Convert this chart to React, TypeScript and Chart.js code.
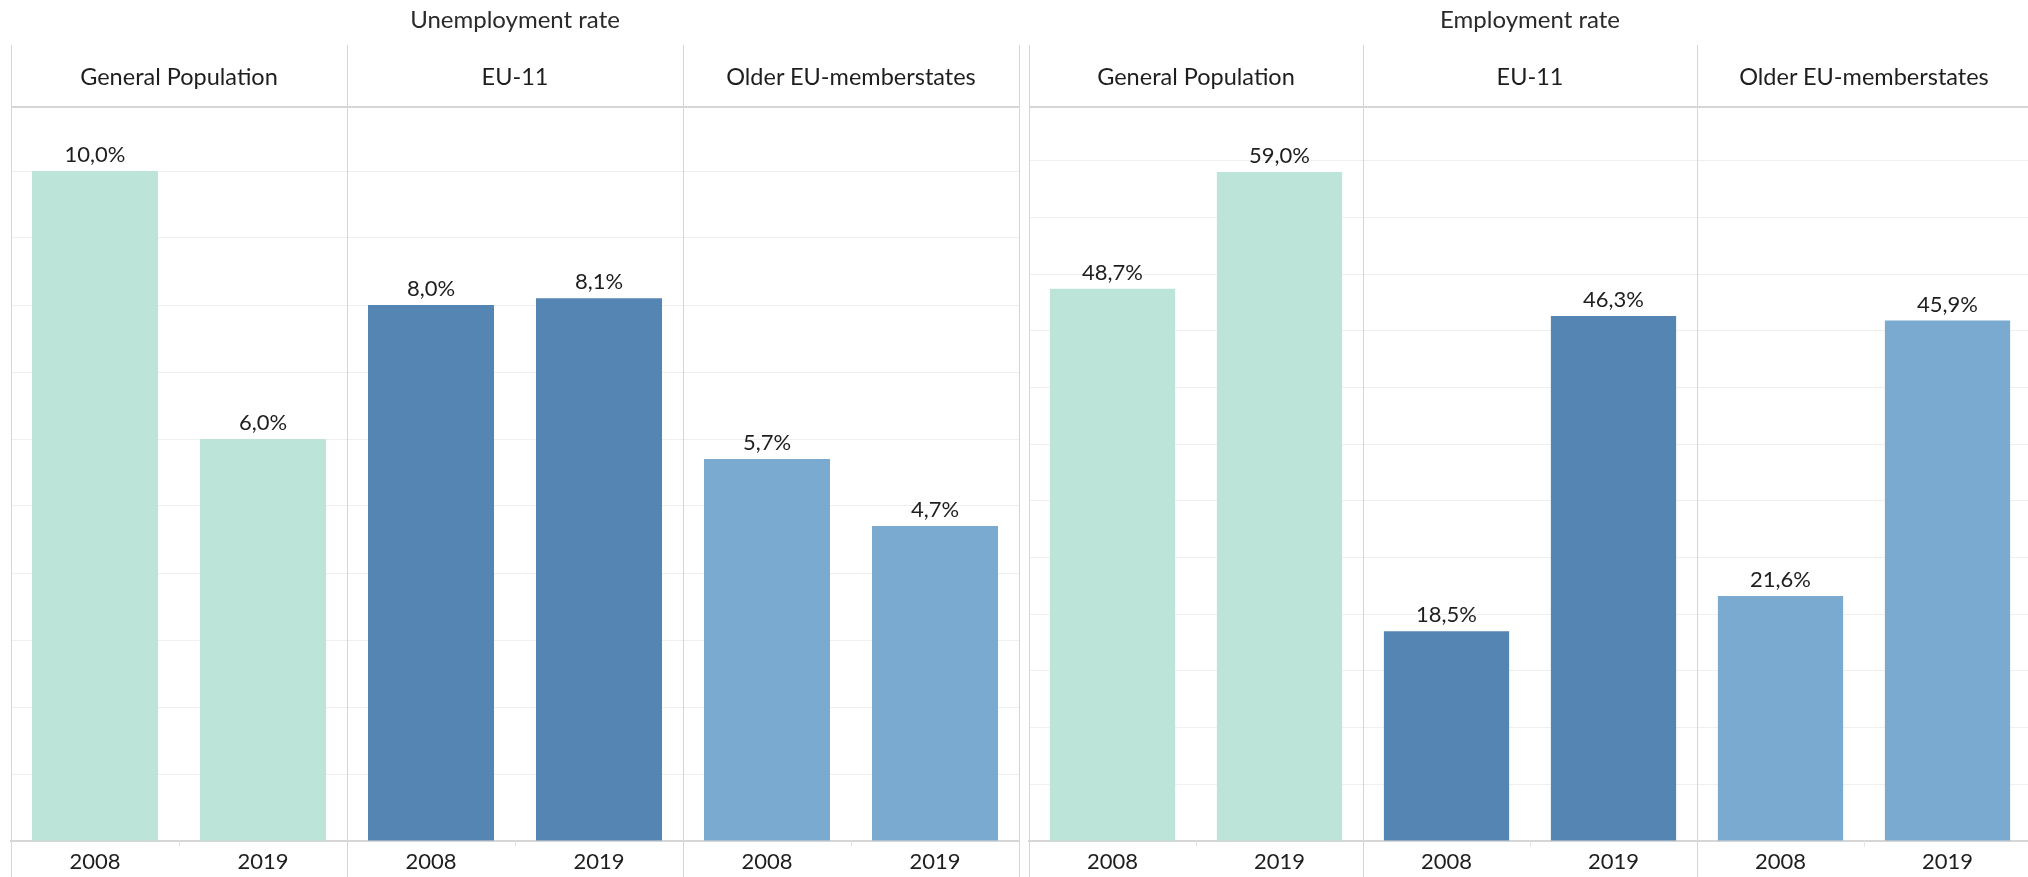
import React, { useEffect, useRef } from 'react';
import { Chart, registerables } from 'chart.js';

Chart.register(...registerables);

// ---- data ----
const years = ['2008', '2019'];
const groups = ['General Population', 'EU-11', 'Older EU-memberstates'];
const unemployment2008 = [10.0, 8.0, 5.7];
const unemployment2019 = [6.0, 8.1, 4.7];
const employment2008 = [48.7, 18.5, 21.6];
const employment2019 = [59.0, 46.3, 45.9];
const panelTitles = ['Unemployment rate', 'Employment rate'];
const unemploymentScale = { max: 11, step: 1 };
const employmentScale = { max: 65, step: 5 };

// ---- styles ----
const groupColors = ['#BCE4D8', '#5585B3', '#7AAAD0'];
const FONT = 'Lato';
const TEXT = '#1e1e1e';
const HEADER_TOP = 45;
const HEADER_LINE = 107;
const CHART_TOP = 104;
const AXIS_H = 36;
const H = 877;

const fmt = (v: number) => v.toFixed(1).replace('.', ',') + '%';

type PanelProps = {
  title: string;
  v2008: number[];
  v2019: number[];
  yMax: number;
  yStep: number;
  left: number;
  width: number;
  padLeft: number;
  padRight: number;
};

function Panel({ title, v2008, v2019, yMax, yStep, left, width, padLeft, padRight }: PanelProps) {
  const ref = useRef<HTMLCanvasElement | null>(null);

  useEffect(() => {
    if (!ref.current) return;
    const labels: string[] = [];
    const values: number[] = [];
    const colors: string[] = [];
    groups.forEach((_, g) => {
      labels.push(years[0], years[1]);
      values.push(v2008[g], v2019[g]);
      colors.push(groupColors[g], groupColors[g]);
    });

    const structure = {
      id: 'structure',
      afterDraw(chart: any) {
        const { ctx, chartArea } = chart;
        const w = (chartArea.right - chartArea.left) / groups.length;
        ctx.save();
        // faint tick marks between years within a group
        ctx.strokeStyle = '#e6e6e6';
        ctx.lineWidth = 1;
        for (let k = 0; k < groups.length; k++) {
          const x = Math.round(chartArea.left + (k + 0.5) * w) + 0.5;
          ctx.beginPath();
          ctx.moveTo(x, chartArea.bottom);
          ctx.lineTo(x, chartArea.bottom + 6);
          ctx.stroke();
        }
        ctx.strokeStyle = '#d6d6d6';
        ctx.lineWidth = 1;
        for (let k = 0; k <= groups.length; k++) {
          const x = Math.round(chartArea.left + k * w) + 0.5;
          ctx.beginPath();
          ctx.moveTo(x, HEADER_TOP);
          ctx.lineTo(x, chart.height);
          ctx.stroke();
        }
        ctx.lineWidth = 2;
        ctx.beginPath();
        ctx.moveTo(chartArea.left, HEADER_LINE);
        ctx.lineTo(chartArea.right, HEADER_LINE);
        ctx.stroke();
        ctx.restore();
      },
    };

    const valueLabels = {
      id: 'valueLabels',
      afterDatasetsDraw(chart: any) {
        const { ctx } = chart;
        const meta = chart.getDatasetMeta(0);
        ctx.save();
        ctx.font = `22px ${FONT}`;
        ctx.fillStyle = TEXT;
        ctx.textAlign = 'center';
        ctx.textBaseline = 'alphabetic';
        meta.data.forEach((bar: any, i: number) => {
          ctx.fillText(fmt(values[i]), bar.x, bar.y - 9);
        });
        ctx.restore();
      },
    };

    const chart = new Chart(ref.current, {
      type: 'bar',
      data: {
        labels,
        datasets: [
          {
            data: values,
            backgroundColor: colors,
            borderWidth: 0,
            categoryPercentage: 1,
            barPercentage: 0.75,
          },
        ],
      },
      options: {
        animation: false,
        responsive: true,
        maintainAspectRatio: false,
        layout: { padding: { top: CHART_TOP, left: padLeft, right: padRight, bottom: 0 } },
        plugins: { legend: { display: false }, tooltip: { enabled: false }, title: { display: false } },
        scales: {
          x: {
            grid: { display: false, drawTicks: false },
            border: { display: true, color: '#d6d6d6', width: 2 },
            ticks: { color: TEXT, font: { family: FONT, size: 22 }, padding: 8, maxRotation: 0, autoSkip: false },
            afterFit: (s: any) => {
              s.height = AXIS_H;
            },
          },
          y: {
            min: 0,
            max: yMax,
            ticks: { display: false, stepSize: yStep },
            grid: {
              color: (c: any) => (c.tick && c.tick.value >= yMax ? 'rgba(0,0,0,0)' : '#efefef'),
              drawTicks: false,
              lineWidth: 1,
            },
            border: { display: false },
            afterFit: (s: any) => {
              s.width = 0;
            },
          },
        },
      },
      plugins: [structure, valueLabels],
    });
    return () => chart.destroy();
  }, []);

  const chartLeft = padLeft;
  const chartWidth = width - padLeft - padRight;
  const colW = chartWidth / groups.length;

  return (
    <div style={{ position: 'absolute', left, top: 0, width, height: H }}>
      <canvas ref={ref} />
      <div
        style={{
          position: 'absolute',
          left: chartLeft,
          width: chartWidth,
          top: 0,
          height: 37,
          lineHeight: '37px',
          textAlign: 'center',
          fontFamily: FONT,
          fontSize: 24,
          color: '#2a2a2a',
          whiteSpace: 'nowrap',
        }}
      >
        {title}
      </div>
      {groups.map((g, k) => (
        <div
          key={g}
          style={{
            position: 'absolute',
            left: chartLeft + k * colW,
            width: colW,
            top: HEADER_TOP,
            height: HEADER_LINE - HEADER_TOP,
            lineHeight: `${HEADER_LINE - HEADER_TOP}px`,
            textAlign: 'center',
            fontFamily: FONT,
            fontSize: 23.5,
            color: TEXT,
            whiteSpace: 'nowrap',
          }}
        >
          {g}
        </div>
      ))}
    </div>
  );
}

export default function App() {
  return (
    <div
      style={{
        position: 'fixed',
        left: 0,
        top: 0,
        width: 2028,
        height: H,
        overflow: 'hidden',
        background: '#ffffff',
      }}
    >
      <Panel
        title={panelTitles[0]}
        v2008={unemployment2008}
        v2019={unemployment2019}
        yMax={unemploymentScale.max}
        yStep={unemploymentScale.step}
        left={0}
        width={1024}
        padLeft={11}
        padRight={5}
      />
      <Panel
        title={panelTitles[1]}
        v2008={employment2008}
        v2019={employment2019}
        yMax={employmentScale.max}
        yStep={employmentScale.step}
        left={1024}
        width={1010}
        padLeft={5}
        padRight={3}
      />
    </div>
  );
}
